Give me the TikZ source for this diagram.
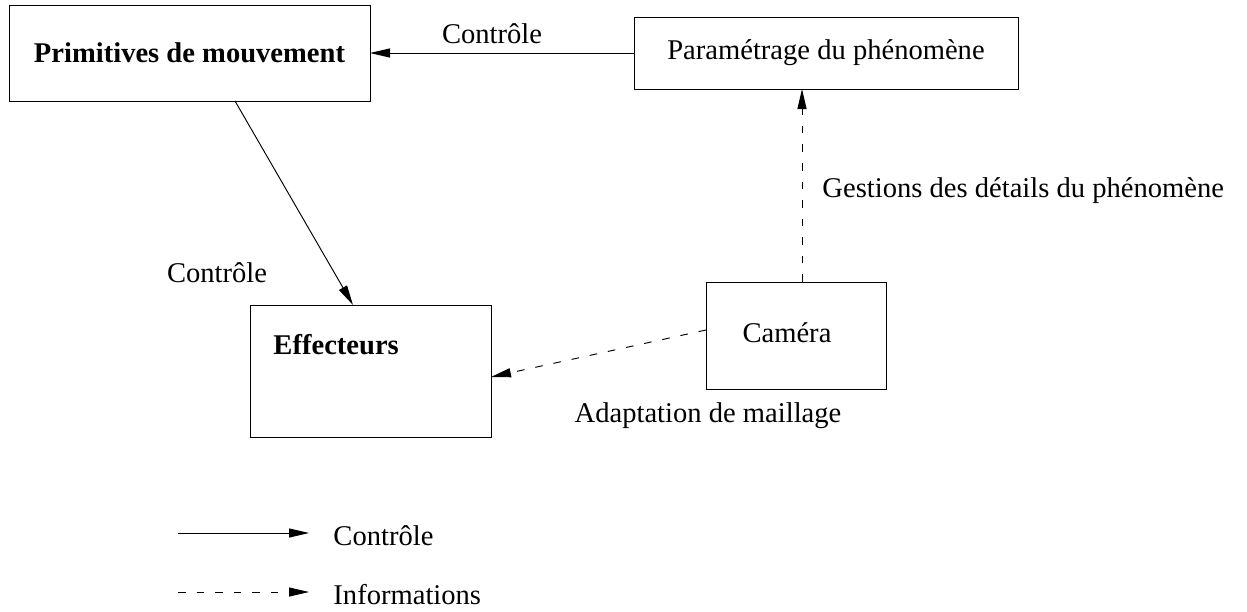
\documentclass[tikz,border=0pt]{standalone}
\usepackage{fontspec}
\setmainfont{Liberation Serif}
\usetikzlibrary{arrows.meta}

\newcommand{\unitpx}{0.42pt}

\begin{document}
\begin{tikzpicture}[x=\unitpx, y=-\unitpx,
	every node/.style = {font=\fontsize{12}{14}\selectfont, inner sep=0},
	box/.style = {draw, outer sep=0},
	ctrl/.style = {-{Triangle[length=8.4pt,width=3.8pt]}},
	info/.style = {ctrl, dash pattern=on 3.2pt off 4.6pt}]
	\useasboundingbox (0,0) rectangle (1247,611);
	% boites
	\node[box, minimum width=361*\unitpx, minimum height=96*\unitpx, font=\fontsize{12}{14}\selectfont\bfseries] (prim) at (189.5,53) {Primitives de mouvement};
	\node[box, minimum width=384*\unitpx, minimum height=72*\unitpx] (par) at (826,53) {Param\'etrage du ph\'enom\`ene};
	\node[box, minimum width=241*\unitpx, minimum height=132*\unitpx] (eff) at (370.5,371) {};
	\node[anchor=base west, font=\fontsize{12}{14}\selectfont\bfseries] (efft) at (273,354) {Effecteurs};
	\node[box, minimum width=180*\unitpx, minimum height=107*\unitpx] (cam) at (796,335.5) {};
	\node[anchor=base] (camt) at (787,342) {Cam\'era};
	% etiquettes
	\node[anchor=base] (c1) at (492,43) {Contr\^ole};
	\node[anchor=base] (c2) at (217,282) {Contr\^ole};
	\node[anchor=base west] (gest) at (822,197) {Gestions des d\'etails du ph\'enom\`ene};
	\node[anchor=base] (adap) at (708,422) {Adaptation de maillage};
	% liens
	\draw[ctrl] (par) -- (prim);
	\draw[ctrl] ([xshift=45.5*\unitpx]prim.south) -- ([xshift=-17.5*\unitpx]eff.north);
	\draw[info] ([xshift=6*\unitpx]cam.north) -- ([xshift=-24*\unitpx]par.south);
	\draw[info] ([yshift=5.5*\unitpx]cam.west) -- ([yshift=-6*\unitpx]eff.east);
	% legende
	\coordinate (l1a) at (178,533);
	\coordinate (l1b) at (309,533);
	\coordinate (l2a) at (178,592);
	\coordinate (l2b) at (309,592);
	\draw[ctrl] (l1a) -- (l1b);
	\draw[info] (l2a) -- (l2b);
	\node[anchor=base west] (lc) at (333,545) {Contr\^ole};
	\node[anchor=base west] (li) at (333,604) {Informations};
\end{tikzpicture}
\end{document}
